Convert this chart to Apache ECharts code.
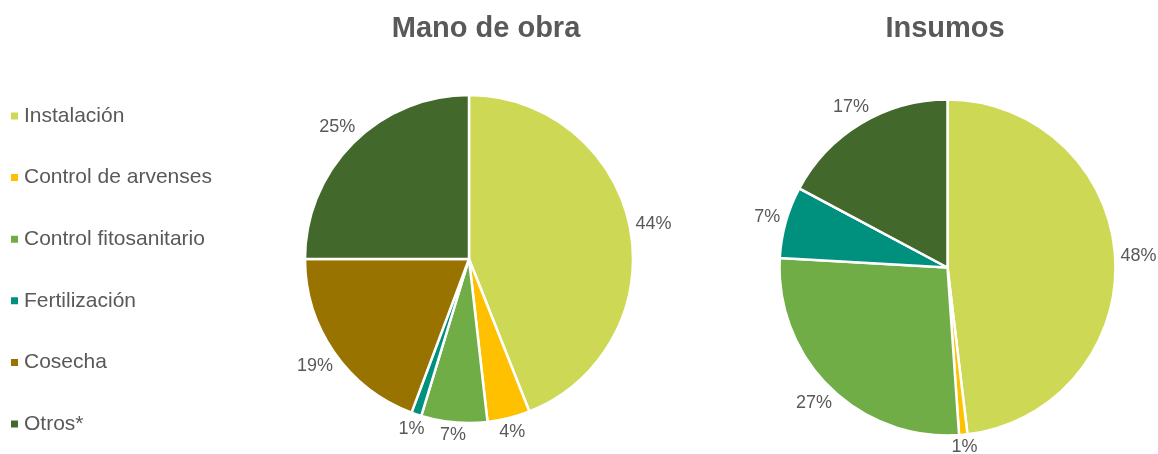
<!DOCTYPE html>
<html><head><meta charset="utf-8">
<script src="https://cdn.jsdelivr.net/npm/echarts@6/dist/echarts.min.js"></script>
<style>html,body{margin:0;padding:0;background:#fff}#c{width:1158px;height:454px}</style>
</head><body><div id="c"></div>
<script>
const categories = ['Instalación','Control de arvenses','Control fitosanitario','Fertilización','Cosecha','Otros*'];
const manoDeObra = [44, 4.2, 6.5, 1, 19.3, 25];
const insumos = [48.1, 0.8, 27, 6.9, 0, 17.2];
const titles = ['Mano de obra','Insumos'];
const colors = ['#CDD954','#FFC000','#70AD47','#00907E','#997300','#43682B'];

const font = 'Liberation Sans, Arial, sans-serif';
const centers = [[469,259],[947.5,267.5]];
const radii = [164,168];
const seriesData = [manoDeObra, insumos];

function mk(vals){
  return categories.map((n,i)=>({name:n, value:vals[i], label:{show: vals[i]>0}}));
}
// place each label just outside the slice, centred on its mid angle
function layoutFor(si){
  const vals = seriesData[si];
  const total = vals.reduce((a,b)=>a+b,0);
  return function(p){
    let cum = 0;
    for(let k=0;k<p.dataIndex;k++) cum += vals[k];
    const mid = (cum + vals[p.dataIndex]/2)/total*2*Math.PI;
    const sx = Math.sin(mid), cy = -Math.cos(mid);
    const w = p.labelRect.width, h = p.labelRect.height*0.7;
    const d = radii[si] + 5 + Math.abs(sx)*w/2 + Math.abs(cy)*h/2;
    return {x: centers[si][0] + sx*d, y: centers[si][1] + cy*d, align:'center', verticalAlign:'middle'};
  };
}
const common = {
  type:'pie', startAngle:90, clockwise:true, avoidLabelOverlap:false,
  itemStyle:{borderColor:'#fff', borderWidth:2.5},
  label:{position:'outside', color:'#595959', fontSize:18, fontFamily:font,
    formatter:p=>Math.round(p.percent)+'%'},
  labelLine:{show:false, length:6, length2:0},
  emphasis:{disabled:true}, animation:false
};
const chart = echarts.init(document.getElementById('c'));
chart.setOption({
  color: colors,
  animation:false,
  title:[
    {text:titles[0], left:481, top:9, textAlign:'center', textStyle:{fontFamily:font, fontSize:29, fontWeight:'bold', color:'#595959'}},
    {text:titles[1], left:940, top:9, textAlign:'center', textStyle:{fontFamily:font, fontSize:29, fontWeight:'bold', color:'#595959'}}
  ],
  legend:{orient:'vertical', left:4, top:99, icon:'rect', itemWidth:9, itemHeight:9, itemGap:37.6,
    data:categories,
    textStyle:{fontFamily:font, fontSize:21, color:'#595959', lineHeight:24, padding:[0,0,0,0]}},
  series:[
    Object.assign({}, common, {name:titles[0], center:centers[0], radius:radii[0], data:mk(manoDeObra), labelLayout:layoutFor(0)}),
    Object.assign({}, common, {name:titles[1], center:centers[1], radius:radii[1], data:mk(insumos), labelLayout:layoutFor(1)})
  ]
});
</script></body></html>
